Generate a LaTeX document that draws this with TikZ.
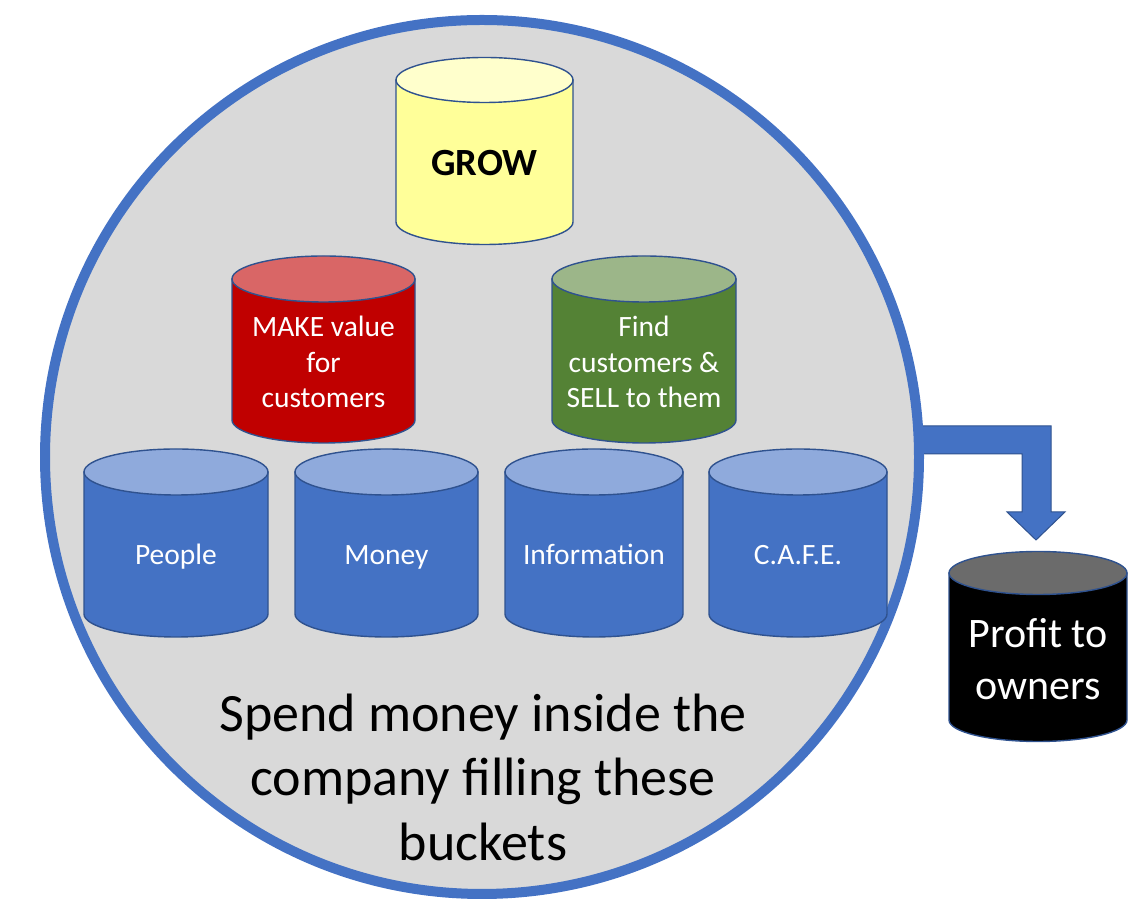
\documentclass[tikz,border=0pt]{standalone}
\usepackage{fontspec}
\setmainfont{Carlito}
\definecolor{ringblue}{HTML}{4472C4}
\definecolor{edgeblue}{HTML}{2F528F}
\definecolor{bgray}{HTML}{D9D9D9}
\definecolor{bluebody}{HTML}{4472C4}
\definecolor{bluetop}{HTML}{8FAADC}
\definecolor{redbody}{HTML}{C00000}
\definecolor{redtop}{HTML}{D96666}
\definecolor{greenbody}{HTML}{548235}
\definecolor{greentop}{HTML}{9CB689}
\definecolor{yellowbody}{HTML}{FFFF99}
\definecolor{yellowtop}{HTML}{FFFFCC}
\definecolor{blacktop}{HTML}{6B6B6B}
\tikzset{
  bucketline/.style={draw=edgeblue, line width=1.4pt},
  ring/.style={draw=ringblue, line width=10pt, fill=bgray},
  flowarrow/.style={draw=edgeblue, line width=1pt, fill=ringblue, line join=miter},
  lbl/.style={text=white, align=center, font=\fontsize{29.5}{35.5}\selectfont},
}
% #1 cx, #2 top centre y (px from top), #3 bottom centre y, #4 rx, #5 ry, #6 body, #7 top, #8 name
\newcommand\drawbucket[8]{%
  \pgfmathsetmacro\bktT{920-#2}%
  \pgfmathsetmacro\bktB{920-#3}%
  \filldraw[bucketline, fill=#6] (#1-#4,\bktT) -- (#1-#4,\bktB)
    arc[start angle=180, end angle=360, x radius=#4, y radius=#5] -- (#1+#4,\bktT) -- cycle;
  \filldraw[bucketline, fill=#7] (#1,\bktT) ellipse[x radius=#4, y radius=#5];
  \coordinate (#8) at (#1,{(\bktT+\bktB)/2});
}
\begin{document}
\begin{tikzpicture}[x=1pt,y=1pt]
\useasboundingbox (0,0) rectangle (1143,920);
% arrow to profit
\draw[flowarrow] (900,{920-426}) -- (1051,{920-426}) -- (1051,{920-512}) -- (1065,{920-512})
  -- (1036,{920-540}) -- (1007,{920-512}) -- (1022,{920-512}) -- (1022,{920-454}) -- (900,{920-454}) -- cycle;
% company circle
\draw[ring] (482,{920-457}) circle[radius=437];
% buckets
\drawbucket{484.5}{80}{222}{88.5}{22.5}{yellowbody}{yellowtop}{grow}
\drawbucket{323.5}{279}{420}{91.5}{23}{redbody}{redtop}{make}
\drawbucket{644}{279}{420}{92}{23}{greenbody}{greentop}{sell}
\drawbucket{176}{472}{614}{92}{23}{bluebody}{bluetop}{people}
\drawbucket{386.5}{472}{614}{91.5}{23}{bluebody}{bluetop}{money}
\drawbucket{594}{472}{614}{89}{23}{bluebody}{bluetop}{info}
\drawbucket{798}{472}{614}{89}{23}{bluebody}{bluetop}{cafe}
\drawbucket{1038}{573}{720}{89}{21.5}{black}{blacktop}{profit}
% labels
\node[font=\fontsize{38.5}{46}\selectfont\bfseries] (growT) at (484.5,{920-163}) {GROW};
\node[lbl] (makeT) at (323.5,{920-362}) {MAKE value\\for\\customers};
\node[lbl] (sellT) at (644,{920-362}) {Find\\customers \&\\SELL to them};
\node[lbl, anchor=base] (peopleT) at (176,{920-565}) {People};
\node[lbl, anchor=base] (moneyT) at (386.5,{920-565}) {Money};
\node[lbl, anchor=base] (infoT) at (594,{920-565}) {Information};
\node[lbl, anchor=base] (cafeT) at (798,{920-565}) {C.A.F.E.};
\node[lbl, font=\fontsize{42}{52}\selectfont] (profitT) at (1038,{920-659}) {Profit to\\owners};
\node[align=center, font=\fontsize{54}{64.5}\selectfont] (spend) at (483,{920-777}) {Spend money inside the\\company filling these\\buckets};
\end{tikzpicture}
\end{document}
